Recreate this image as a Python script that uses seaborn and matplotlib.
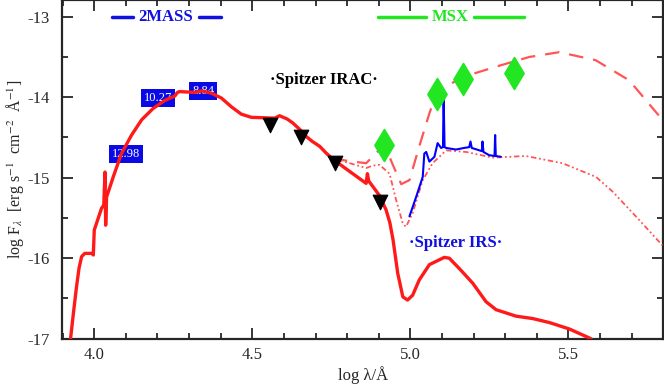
import numpy as np
import pandas as pd
import matplotlib
matplotlib.use("Agg")
import matplotlib.pyplot as plt
import seaborn as sns
from matplotlib.ticker import MultipleLocator

# Modelo estelar (linha vermelha sólida)
star_logl = [3.925, 3.935, 3.944, 3.952, 3.960, 3.970, 3.992, 3.997, 4.0, 4.023, 4.030, 4.034, 4.036,
             4.039, 4.06, 4.086, 4.118, 4.15, 4.186, 4.223, 4.255, 4.263, 4.27, 4.318, 4.339,
             4.371, 4.402, 4.434, 4.465, 4.497, 4.571, 4.586, 4.61, 4.628, 4.65, 4.671, 4.69,
             4.713, 4.735, 4.755, 4.80, 4.86, 4.864, 4.868, 4.902, 4.923, 4.935, 4.945, 4.96,
             4.976, 4.991, 5.007, 5.028, 5.06, 5.107, 5.123, 5.155, 5.197, 5.239, 5.271, 5.334,
             5.387, 5.44, 5.503, 5.571]
star_logf = [-17.0, -16.65, -16.35, -16.12, -15.98, -15.94, -15.94, -15.96, -15.65, -15.38, -15.34, -14.93, -15.59,
             -15.24, -14.99, -14.70, -14.47, -14.28, -14.14, -14.04, -13.985, -13.94, -13.93, -13.94, -13.92,
             -13.95, -14.01, -14.12, -14.21, -14.25, -14.26, -14.23, -14.27, -14.32, -14.40, -14.49, -14.55,
             -14.61, -14.70, -14.77, -14.90, -15.07, -14.95, -15.04, -15.22, -15.40, -15.56, -15.77, -16.19,
             -16.48, -16.52, -16.46, -16.27, -16.08, -15.99, -16.0, -16.13, -16.31, -16.54, -16.64, -16.72,
             -16.75, -16.80, -16.88, -17.0]

# Modelo com disco (tracejado)
disk_logl = [4.755, 4.80, 4.86, 4.90, 4.92, 4.94, 4.971, 4.997, 5.028, 5.06, 5.081, 5.102,
             5.165, 5.271, 5.376, 5.471, 5.586, 5.692, 5.797]
disk_logf = [-14.76, -14.79, -14.82, -14.66, -14.60, -14.80, -15.08, -15.03, -14.61, -14.2, -13.97, -13.89,
             -13.75, -13.62, -13.5, -13.44, -13.54, -13.79, -14.28]

# Modelo alternativo (traço-ponto)
alt_logl = [4.755, 4.80, 4.86, 4.88, 4.902, 4.934, 4.955, 4.976, 4.986, 5.007, 5.039, 5.07,
            5.113, 5.176, 5.26, 5.365, 5.481, 5.587, 5.639, 5.713, 5.797]
alt_logf = [-14.76, -14.81, -14.88, -14.85, -14.84, -14.95, -15.28, -15.57, -15.61, -15.44, -15.03, -14.82,
            -14.66, -14.68, -14.75, -14.73, -14.82, -14.99, -15.17, -15.48, -15.84]

# Espectro Spitzer IRS
irs_logl = [4.997, 5.018, 5.039, 5.044, 5.05, 5.06, 5.076, 5.086, 5.097, 5.103, 5.105, 5.108,
            5.113, 5.144, 5.17, 5.186, 5.190, 5.194, 5.218, 5.226, 5.228, 5.231, 5.249,
            5.266, 5.268, 5.270, 5.286]
irs_logf = [-15.48, -15.24, -14.99, -14.70, -14.68, -14.80, -14.74, -14.57, -14.63, -14.62, -13.99, -14.62,
            -14.63, -14.65, -14.63, -14.62, -14.55, -14.63, -14.66, -14.67, -14.55, -14.68, -14.72,
            -14.73, -14.47, -14.73, -14.74]

# Fotometria
irac_logl = [4.556, 4.653, 4.763, 4.903]
irac_logf = [-14.35, -14.5, -14.82, -15.3]
msx_logl = [4.918, 5.084, 5.166, 5.328]
msx_logf = [-14.59, -13.96, -13.77, -13.7]
tmass_logl = [4.10, 4.202, 4.344]
tmass_logf = [-14.71, -14.01, -13.92]
tmass_mag = ["12.98", "10.27", "8.84"]

sns.set_style("ticks")
plt.rcParams['font.family'] = ['Liberation Serif', 'DejaVu Serif']
plt.rcParams['mathtext.fontset'] = 'stix'

fig = plt.figure(figsize=(6.64, 3.85), dpi=100)
ax = fig.add_axes([0.0934, 0.1203, 0.9056, 0.8797])

red = '#ff1a1a'
lred = '#ff5555'
sns.lineplot(x=disk_logl, y=disk_logf, sort=False, estimator=None, ax=ax,
             color=lred, lw=1.6, zorder=3)
ax.lines[-1].set_dashes((6.5, 4.5))
sns.lineplot(x=alt_logl, y=alt_logf, sort=False, estimator=None, ax=ax,
             color=lred, lw=1.3, zorder=3)
ax.lines[-1].set_dashes((3, 1.5, 1, 1.5, 1, 1.5))
sns.lineplot(x=star_logl, y=star_logf, sort=False, estimator=None, ax=ax,
             color=red, lw=2.4, zorder=3)
sns.lineplot(x=irs_logl, y=irs_logf, sort=False, estimator=None, ax=ax,
             color='#0000ff', lw=1.5, zorder=3)

sns.scatterplot(x=irac_logl, y=irac_logf, marker='v', s=110, color='black',
                edgecolor='black', ax=ax, zorder=5)
sns.scatterplot(x=msx_logl, y=msx_logf, marker='d', s=260, color='#22e622',
                edgecolor='#22e622', ax=ax, zorder=5)

for xl, yl, m in zip(tmass_logl, tmass_logf, tmass_mag):
    ax.text(xl, yl, m, color='white', fontsize=9, ha='center', va='center', zorder=2,
            bbox=dict(boxstyle='square,pad=0.25', fc='#0a0ae6', ec='none'))

# Etiquetas dos instrumentos
blue = '#1010e0'
green = '#22e622'
ax.plot([4.056, 4.122], [-13.0, -13.0], color=blue, lw=2.5)
ax.plot([4.331, 4.40], [-13.0, -13.0], color=blue, lw=2.5)
ax.text(4.227, -13.0, '2MASS', color=blue, fontsize=12, fontweight='bold', ha='center', va='center')
ax.plot([4.897, 5.05], [-13.0, -13.0], color=green, lw=2.5)
ax.plot([5.202, 5.36], [-13.0, -13.0], color=green, lw=2.5)
ax.text(5.126, -13.0, 'MSX', color=green, fontsize=12, fontweight='bold', ha='center', va='center')
ax.text(4.726, -13.78, '·Spitzer IRAC·', color='black', fontsize=12, fontweight='bold',
        ha='center', va='center')
ax.text(5.144, -15.81, '·Spitzer IRS·', color=blue, fontsize=12, fontweight='bold',
        ha='center', va='center')

ax.set_xlim(3.898, 5.8)
ax.set_ylim(-17, -12.792)
ax.xaxis.set_minor_locator(MultipleLocator(0.1))
ax.yaxis.set_minor_locator(MultipleLocator(0.5))
ax.set_xticks([4.0, 4.5, 5.0, 5.5], ['4.0', '4.5', '5.0', '5.5'])
ax.set_yticks([-17, -16, -15, -14, -13], ['-17', '-16', '-15', '-14', '-13'])
ax.tick_params(which='both', direction='in', top=True, right=True, width=1.3, labelsize=12)
ax.tick_params(which='major', length=8)
ax.tick_params(which='minor', length=4)
ax.tick_params(axis='y', pad=9)
ax.tick_params(axis='x', pad=6)
for sp in ax.spines.values():
    sp.set_linewidth(1.6)

ax.set_xlabel('log λ/Å', fontsize=12, labelpad=2)
ax.set_ylabel(r'log F$_\lambda$  [erg s$^{-1}$  cm$^{-2}$  Å$^{-1}$]', fontsize=11.5, labelpad=1)

fig.savefig('out.png', dpi=100)
